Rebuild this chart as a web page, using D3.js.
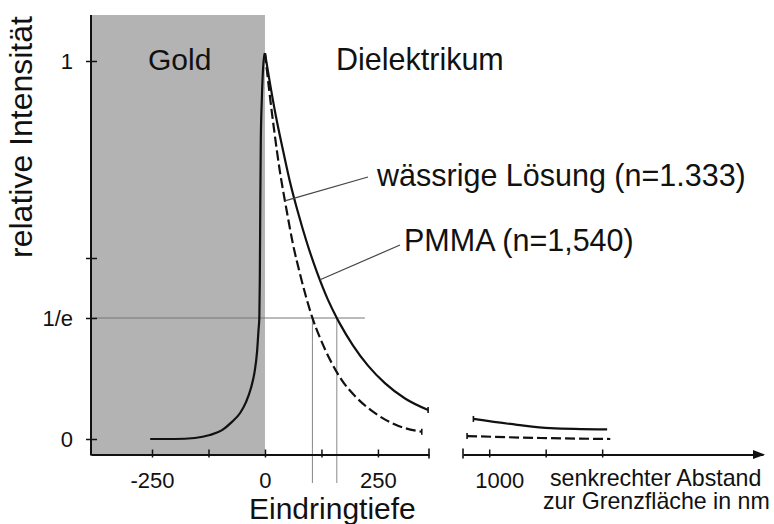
<!DOCTYPE html>
<html>
<head>
<meta charset="utf-8">
<script src="https://cdn.jsdelivr.net/npm/d3@7"></script>
<style>
  html, body { margin: 0; padding: 0; background: #fff; }
  svg { display: block; font-family: "Liberation Sans", Arial, Helvetica, sans-serif; }
</style>
</head>
<body>
<svg id="chart" width="774" height="524"></svg>
<script>
// Field intensity on both sides of a gold / dielectric interface (nm vs. relative intensity)

// evanescent tail inside the gold
const goldX = [-254, -199, -155, -122, -95, -73, -55, -42, -31, -23, -17.6, -14.3, -12.5, -11.4, -10.3, -9.2, -7.0, -4.4, -1.7, 0];
const goldI = [0, 0, 0.003, 0.012, 0.027, 0.052, 0.079, 0.112, 0.155, 0.204, 0.264, 0.331, 0.368, 0.452, 0.647, 0.80, 0.901, 0.977, 1.013, 1.02];

// decay into the dielectric, near range (solid and dashed curve)
const solidNearX = [0, 11, 24, 40, 55, 73, 93, 115, 139, 159, 166, 195, 228, 266, 310, 361];
const solidNearI = [1.02, 0.944, 0.861, 0.773, 0.695, 0.616, 0.538, 0.469, 0.409, 0.368, 0.350, 0.284, 0.223, 0.169, 0.123, 0.088];
const dashedNearX = [0, 9, 20, 33, 47, 62, 78, 91, 105, 122, 144, 170, 201, 239, 288, 347];
const dashedNearI = [1.02, 0.929, 0.827, 0.720, 0.627, 0.535, 0.463, 0.414, 0.368, 0.307, 0.241, 0.179, 0.128, 0.083, 0.044, 0.022];

// far range beyond the axis break
const solidFarX = [965, 1062, 1135, 1261];
const solidFarI = [0.061, 0.043, 0.033, 0.029];
const dashedFarX = [951, 1113, 1268];
const dashedFarI = [0.009, 0.003, 0.0];

// axes
const nearDomain = [-385, 363];
const farDomain = [942, 1606];
const nearTicks = [-250, -125, 0, 125, 250];
const nearTickLabels = ["-250", "", "0", "", "250"];
const farTicks = [1000, 1125, 1250];
const farTickLabels = ["1000", "", ""];
const yTicks = [0, 1 / Math.E, 0.5, 1];
const yTickLabels = ["0", "1/e", "", "1"];
const goldExtent = [-385, 0];
const eLineExtent = [-385, 221];

// labels and leader anchors (points on the curves)
const waterLabel = "wässrige Lösung (n=1.333)";
const waterAnchor = [44, 0.645];
const pmmaLabel = "PMMA (n=1,540)";
const pmmaAnchor = [122, 0.452];

const svg = d3.select("#chart");
const ink = "#111";
const axisY = 454.5;

const y = d3.scaleLinear().domain(yTicks.slice().sort((a, b) => a - b)).range([439, 318, 258, 61]);
const xNear = d3.scaleLinear().domain(nearDomain).range([91, 429]);
const xFar = d3.scaleLinear().domain(farDomain).range([463, 763]);

const zip = (xs, ys) => xs.map((v, i) => [v, ys[i]]);

// gold region
svg.append("rect")
  .attr("x", xNear(goldExtent[0]) + 1)
  .attr("y", 15)
  .attr("width", xNear(goldExtent[1]) - xNear(goldExtent[0]) - 1)
  .attr("height", axisY - 15)
  .attr("fill", "#b3b3b3");

// 1/e reference line
svg.append("line")
  .attr("x1", xNear(eLineExtent[0])).attr("x2", xNear(eLineExtent[1]))
  .attr("y1", y(1 / Math.E)).attr("y2", y(1 / Math.E))
  .attr("stroke", "#777").attr("stroke-width", 1);

// penetration depth markers where each curve meets 1/e
[[dashedNearX, dashedNearI], [solidNearX, solidNearI]].forEach(([xs, is]) => {
  const k = is.findIndex(v => Math.abs(v - 1 / Math.E) < 1e-3);
  svg.append("line")
    .attr("x1", xNear(xs[k])).attr("x2", xNear(xs[k]))
    .attr("y1", y(is[k])).attr("y2", 483)
    .attr("stroke", "#888").attr("stroke-width", 1);
});

// curves
const lineNear = d3.line().x(d => xNear(d[0])).y(d => y(d[1])).curve(d3.curveMonotoneX);
const lineFar = d3.line().x(d => xFar(d[0])).y(d => y(d[1])).curve(d3.curveMonotoneX);

function drawCurve(gen, pts, dashed) {
  svg.append("path")
    .attr("d", gen(pts))
    .attr("fill", "none")
    .attr("stroke", ink)
    .attr("stroke-width", 2.2)
    .attr("stroke-dasharray", dashed ? "10,4" : null);
}
drawCurve(lineNear, zip(goldX, goldI), false);
drawCurve(lineNear, zip(solidNearX, solidNearI), false);
drawCurve(lineNear, zip(dashedNearX, dashedNearI), true);
drawCurve(lineFar, zip(solidFarX, solidFarI), false);
drawCurve(lineFar, zip(dashedFarX, dashedFarI), true);

// small caps where the curves are cut at the break
function cap(px, py, h) {
  svg.append("line").attr("x1", px).attr("x2", px).attr("y1", py - h).attr("y2", py + h)
    .attr("stroke", ink).attr("stroke-width", 1.6);
}
cap(xNear(solidNearX[solidNearX.length - 1]), y(solidNearI[solidNearI.length - 1]), 3);
cap(xNear(dashedNearX[dashedNearX.length - 1]), y(dashedNearI[dashedNearI.length - 1]), 3);
cap(xFar(solidFarX[0]), y(solidFarI[0]), 3);
cap(xFar(dashedFarX[0]), y(dashedFarI[0]), 3);

// leader lines
function leader(anchor, tx, ty) {
  svg.append("line")
    .attr("x1", xNear(anchor[0])).attr("y1", y(anchor[1]))
    .attr("x2", tx).attr("y2", ty)
    .attr("stroke", "#444").attr("stroke-width", 1.2);
}
leader(waterAnchor, 368, 177);
leader(pmmaAnchor, 400, 245);

// x axis, near segment
const axNear = svg.append("g").attr("transform", `translate(0,${axisY})`)
  .call(d3.axisBottom(xNear).tickValues(nearTicks)
    .tickFormat((d, i) => nearTickLabels[i]).tickSizeOuter(0));
// x axis, far segment
const axFar = svg.append("g").attr("transform", `translate(0,${axisY})`)
  .call(d3.axisBottom(xFar).tickValues(farTicks)
    .tickFormat((d, i) => farTickLabels[i]).tickSizeOuter(0));

[axNear, axFar].forEach(g => {
  g.select(".domain").attr("stroke", ink).attr("stroke-width", 2);
  g.selectAll(".tick line").attr("y1", -5).attr("y2", 3).attr("stroke", ink).attr("stroke-width", 1.5);
  g.selectAll(".tick text").attr("y", 33).attr("dy", null)
    .attr("font-size", 22).attr("fill", ink).attr("font-family", null);
});
axFar.selectAll(".tick text").attr("dx", 10);

// break caps and arrow head
cap(xNear(nearDomain[1]), axisY - 1, 5);
cap(xFar(farDomain[0]), axisY - 1, 5);
const xe = xFar(farDomain[1]);
svg.append("path")
  .attr("d", `M${xe + 2},${axisY} L${xe - 10},${axisY - 4.5} L${xe - 10},${axisY + 4.5} Z`)
  .attr("fill", ink);

// y axis
const axY = svg.append("g").attr("transform", "translate(91,0)")
  .call(d3.axisLeft(y).tickValues(yTicks)
    .tickFormat((d, i) => yTickLabels[i]).tickSizeOuter(0));
axY.select(".domain").remove();
axY.selectAll(".tick line").attr("x1", -5).attr("x2", 6).attr("stroke", ink).attr("stroke-width", 1.5);
axY.selectAll(".tick text").attr("x", -18).attr("dy", "0.36em")
  .attr("font-size", 22).attr("fill", ink).attr("font-family", null);
svg.append("line").attr("x1", 91).attr("x2", 91).attr("y1", 15).attr("y2", axisY + 1)
  .attr("stroke", ink).attr("stroke-width", 2);

// text
function label(txt, x0, y0, size, anchor) {
  return svg.append("text").attr("x", x0).attr("y", y0)
    .attr("font-size", size).attr("fill", ink)
    .attr("text-anchor", anchor || "start").text(txt);
}
label("Gold", 148, 70, 30);
label("Dielektrikum", 336, 70, 30.5);
label(waterLabel, 377, 186, 30.5);
label(pmmaLabel, 404, 251, 30.5);
label("Eindringtiefe", 249, 519, 30);
label("senkrechter Abstand", 550, 486, 23.2);
label("zur Grenzfläche in nm", 543, 509, 23.2);
svg.append("text")
  .attr("transform", "translate(32,137) rotate(-90)")
  .attr("text-anchor", "middle").attr("font-size", 32).attr("fill", ink)
  .text("relative Intensität");
</script>
</body>
</html>
